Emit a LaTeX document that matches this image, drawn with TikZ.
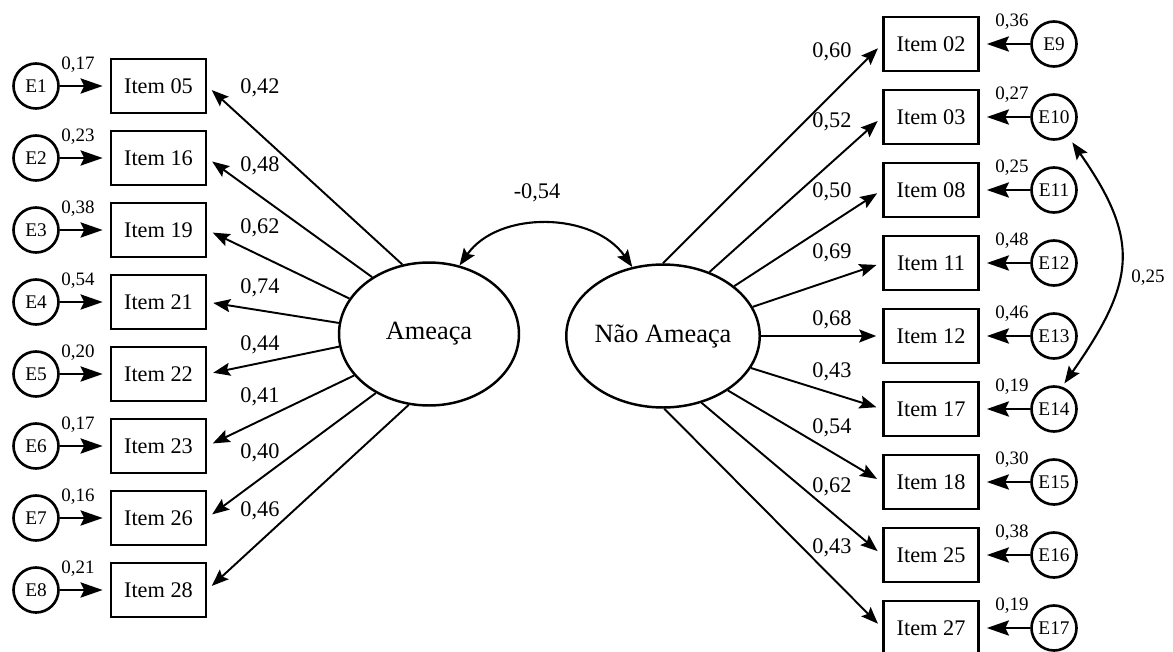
\documentclass[tikz,border=0pt]{standalone}
\usepackage{fontspec}
\setmainfont{Liberation Serif}
\usetikzlibrary{arrows.meta,shapes.geometric}

\tikzset{
  item/.style={draw, line width=1.5pt, minimum width=1.9cm, minimum height=1.08cm,
    inner sep=0pt, font=\fontsize{12.7}{15}\selectfont},
  erro/.style={draw, circle, line width=1.5pt, minimum size=0.9cm, inner sep=0pt,
    font=\fontsize{11}{13}\selectfont},
  fator/.style={draw, ellipse, line width=1.4pt, minimum width=3.6cm, minimum height=2.86cm,
    inner sep=0pt, font=\fontsize{15}{18}\selectfont},
  carga/.style={->, >={Stealth[length=0.34cm,width=0.26cm,inset=0.06cm]}, line width=1.1pt,
    shorten >=0.12cm},
  residuo/.style={->, >={Stealth[length=0.44cm,width=0.3cm,inset=0.07cm]}, line width=1.7pt,
    shorten >=0.14cm},
  covar/.style={<->, >={Stealth[length=0.34cm,width=0.26cm,inset=0.06cm]}, line width=1.2pt},
  peso/.style={inner sep=0pt, font=\fontsize{12.7}{15}\selectfont},
  varlabel/.style={inner sep=0pt, font=\fontsize{10.8}{13}\selectfont},
}

\begin{document}
\begin{tikzpicture}[x=0.02cm, y=-0.02cm]
  \useasboundingbox (0,0) rectangle (1173,652);
  % latent factors
  \node[fator] (amea) at (429,334) {Ameaça};
  \node[fator] (nao) at (663,336) {Não Ameaça};
  \draw[covar] (amea.66) to[out=55,in=125] (nao.114);
  \node[peso] (r12) at (537,193) {-0,54};
  % left side
  \foreach \n/\e/\r/\l/\a/\k [count=\i from 0] in {05/1/{0,17}/{0,42}/111/88,
      16/2/{0,23}/{0,48}/135/166, 19/3/{0,38}/{0,62}/156/228, 21/4/{0,54}/{0,74}/173/288,
      22/5/{0,20}/{0,44}/188/345, 23/6/{0,17}/{0,41}/209/397, 26/7/{0,16}/{0,40}/228/453,
      28/8/{0,21}/{0,46}/254/511}{
    \pgfmathsetmacro\yy{86+72*\i}
    \node[item] (i\n) at (158.5,\yy) {Item \n};
    \node[erro] (e\e) at (36,\yy) {E\e};
    \draw[residuo] (e\e) -- (i\n);
    \node[varlabel] (v\e) at (78,\yy-21) {\r};
    \draw[carga] (amea.\a) -- (i\n.east);
    \node[peso] (c\n) at (260,\k) {\l};
  }
  % right side
  \foreach \n/\e/\r/\l/\a/\k [count=\i from 0] in {02/9/{0,36}/{0,60}/90/52,
      03/10/{0,27}/{0,52}/54/122, 08/11/{0,25}/{0,50}/35/192, 11/12/{0,48}/{0,69}/18/253,
      12/13/{0,46}/{0,68}/0/320, 17/14/{0,19}/{0,43}/-20/372, 18/15/{0,30}/{0,54}/-40/428,
      25/16/{0,38}/{0,62}/-60/487, 27/17/{0,19}/{0,43}/-89/548}{
    \pgfmathsetmacro\yy{44+73*\i}
    \node[item] (i\n) at (931,\yy) {Item \n};
    \node[erro] (e\e) at (1054,\yy) {E\e};
    \draw[residuo] (e\e) -- (i\n);
    \node[varlabel] (v\e) at (1012,\yy-22) {\r};
    \draw[carga] (nao.\a) -- (i\n.west);
    \node[peso] (c\n) at (832,\k) {\l};
  }
  % correlated errors
  \draw[covar, shorten <=0.15cm, shorten >=0.08cm] (e10.-54) to[out=-55,in=55,looseness=1.3] (e14.70);
  \node[varlabel] (r1014) at (1148,278) {0,25};
\end{tikzpicture}
\end{document}
